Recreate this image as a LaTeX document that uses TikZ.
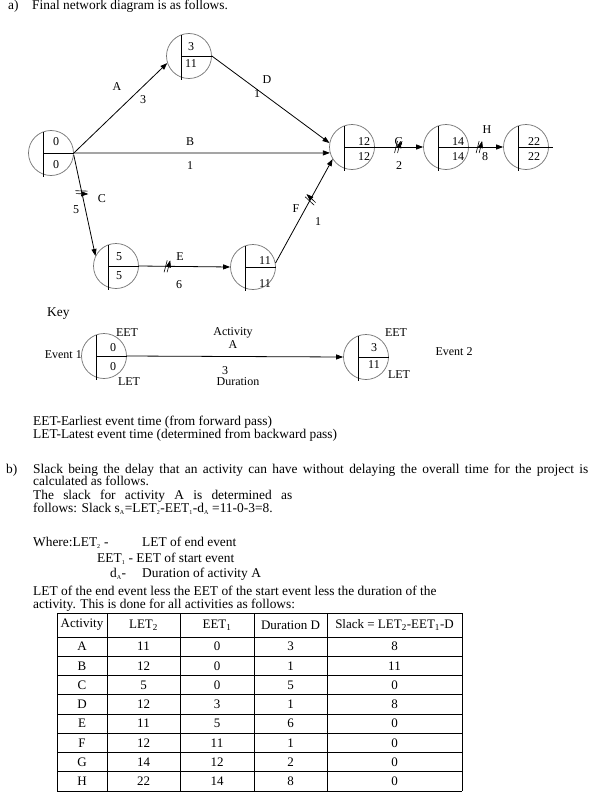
\documentclass[tikz,border=0pt]{standalone}
\usepackage{fontspec}
\setmainfont{Liberation Serif}
\usetikzlibrary{arrows.meta, decorations.markings}
\newcommand{\tsub}[1]{\textsubscript{\fontsize{6}{6}\selectfont #1}}

\begin{document}
\begin{tikzpicture}[
	x=1pt, y=-1pt,
	>={Triangle[length=7pt, width=5pt]},
	% Styles for events, activities and text
	event/.style={circle, draw=black!55, line width=0.7pt, minimum size=45pt, inner sep=0pt},
	divider/.style={line width=0.7pt},
	activity/.style={->, line width=0.8pt},
	critical/.style={postaction={decorate, decoration={markings, mark=at position #1 with {\draw[line width=0.6pt] (-3pt,-6pt) -- (0pt,6pt) (0pt,-6pt) -- (3pt,6pt);}}}},
	num/.style={font=\fontsize{12}{12}\selectfont, inner sep=0pt},
	lbl/.style={font=\fontsize{12}{12}\selectfont, inner sep=0pt},
	bodytext/.style={font=\fontsize{13.4}{13.4}\selectfont, inner sep=0pt, anchor=west, text height=8.5pt, text depth=2.3pt},
	cell/.style={font=\fontsize{13}{13}\selectfont, inner sep=0pt},
	tablerule/.style={line width=1pt}
	]
	\path[use as bounding box, fill=white] (0,0) rectangle (597,808);
	
	% ==========================================
	% 1. TITLE OF PART (a)
	% ==========================================
	\node[bodytext] (parta) at (8,6) {a)};
	\node[bodytext] (title) at (32,6) {Final network diagram is as follows.};
	
	% ==========================================
	% 2. EVENTS (name/x/y/EET/LET/text offsets)
	% ==========================================
	\foreach \nm/\cx/\cy/\eet/\late/\tx/\ty/\by in {
		n1/51/153/0/0/5/-11/12,
		n2/189/56/3/11/2/-9/8,
		n3/352/147/12/12/12/-5/10,
		n4/446/147/14/14/12/-5/10,
		n5/526/147/22/22/8/-5/10,
		n6/116/266/5/5/3/-9/10,
		n7/253/267/11/11/12/-6/17,
		k1/104/356/0/0/9/-8/11,
		k2/366/357/3/11/8/-9/8}
	{
		\node[event] (\nm) at (\cx,\cy) {};
		\draw[divider] ([shift={(-8pt,-2pt)}]\nm.north) -- ([shift={(-8pt,-1pt)}]\nm.south)
		([xshift=-8pt]\nm.center) -- (\nm.east);
		\node[num] (\nm-eet) at (\cx+\tx,\cy+\ty) {\eet};
		\node[num] (\nm-let) at (\cx+\tx,\cy+\by) {\late};
	}
	\draw[divider] (n5.east) -- ++(4,0);
	
	% ==========================================
	% 3. ACTIVITIES (// marks the critical path)
	% ==========================================
	\draw[activity] (n1.east) -- (n2.198);
	\draw[activity] (n1.east) -- (n3.195);
	\draw[activity, critical=0.37] (n1.-5) -- (n6.154);
	\draw[activity] (n2.east) -- (n3.170);
	\draw[activity, critical=0.31] (n6.east) -- (n7.west);
	\draw[activity, critical=0.61] (n7.10) -- (n3.212);
	\draw[activity, critical=0.47] (n3.east) -- (n4.west);
	\draw[activity, critical=0.3] (n4.east) -- (n5.west);
	
	% Activity letters and durations
	\node[lbl] (lA) at (117,87) {A};   \node[lbl] (dA) at (143,100) {3};
	\node[lbl] (lD) at (267,80) {D};   \node[lbl] (dD) at (257,94) {1};
	\node[lbl] (lB) at (190,142) {B};  \node[lbl] (dB) at (190,166) {1};
	\node[lbl] (lC) at (102,199) {C};  \node[lbl] (dC) at (76,210) {5};
	\node[lbl] (lE) at (180,257) {E};  \node[lbl] (dE) at (179,285) {6};
	\node[lbl] (lF) at (296,209) {F};  \node[lbl] (dF) at (318,222) {1};
	\node[lbl] (lG) at (399,142) {G};  \node[lbl] (dG) at (399,166) {2};
	\node[lbl] (lH) at (487,130) {H};  \node[lbl] (dH) at (485,157) {8};
	
	% ==========================================
	% 4. KEY
	% ==========================================
	\node[bodytext] (key) at (47,313) {Key};
	\draw[activity] (k1.east) -- (k2.west);
	\node[lbl] (k1top) at (127,333) {EET};
	\node[lbl] (k1bot) at (129,382) {LET};
	\node[lbl, anchor=east] (ev1) at (82,355) {Event 1};
	\node[lbl] (kact) at (233,333) {Activity};
	\node[lbl] (kA) at (233,345) {A};
	\node[lbl] (k3) at (225,371) {3};
	\node[lbl] (kdur) at (238,382) {Duration};
	\node[lbl] (k2top) at (396,333) {EET};
	\node[lbl] (k2bot) at (399,375) {LET};
	\node[lbl] (ev2) at (454,352) {Event 2};
	
	\node[bodytext] (eetdef) at (33,422) {EET-Earliest event time (from forward pass)};
	\node[bodytext] (letdef) at (33,435) {LET-Latest event time (determined from backward pass)};
	
	% ==========================================
	% 5. PART (b) TEXT
	% ==========================================
	\node[bodytext] (partb) at (6,470) {b)};
	\node[bodytext] (slack1) at (33,470) {\makebox[555pt][s]{Slack being the delay that an activity can have without delaying the overall time for the project is}};
	\node[bodytext] (slack2) at (33,482.5) {calculated as follows.};
	\node[bodytext] (slack3) at (33,496.5) {\makebox[259pt][s]{The slack for activity A is determined as}};
	\node[bodytext] (slack4) at (33,509.5) {follows: Slack s\tsub{A}=LET\tsub{2}-EET\tsub{1}-d\tsub{A} =11-0-3=8.};
	\node[bodytext] (where1) at (33,543) {Where:LET\tsub{2} -};
	\node[bodytext] (where1r) at (142,543) {LET of end event};
	\node[bodytext] (where2) at (97,559) {EET\tsub{1} - EET of start event};
	\node[bodytext] (where3) at (110,574) {d\tsub{A}-};
	\node[bodytext] (where3r) at (142,574) {Duration of activity A};
	\node[bodytext] (slack5) at (33,592) {LET of the end event less the EET of the start event less the duration of the};
	\node[bodytext] (slack6) at (33,605) {activity. This is done for all activities as follows:};
	
	% ==========================================
	% 6. SLACK TABLE
	% ==========================================
	\foreach \x in {57,107,180,254,327,462}
	\draw[tablerule] (\x,613) -- (\x,791);
	\foreach \y in {613,637,656.25,675.5,694.75,714,733.25,752.5,771.75,791}
	\draw[tablerule] (57,\y) -- (462,\y);
	
	\node[cell] (hact) at (82,625) {Activity};
	\node[cell] (hlet) at (143.5,625) {LET\textsubscript{2}};
	\node[cell] (heet) at (217,625) {EET\textsubscript{1}};
	\node[cell] (hdur) at (290.5,625) {Duration D};
	\node[cell] (hslk) at (394.5,625) {Slack = LET\textsubscript{2}-EET\textsubscript{1}-D};
	
	\foreach \act/\letv/\eetv/\durv/\slk [count=\i] in {A/11/0/3/8, B/12/0/1/11, C/5/0/5/0, D/12/3/1/8, E/11/5/6/0, F/12/11/1/0, G/14/12/2/0, H/22/14/8/0}
	{
		\pgfmathsetmacro\ry{637+(\i-0.5)*19.25}
		\node[cell] (row\i-act) at (82,\ry) {\act};
		\node[cell] (row\i-let) at (143.5,\ry) {\letv};
		\node[cell] (row\i-eet) at (217,\ry) {\eetv};
		\node[cell] (row\i-dur) at (290.5,\ry) {\durv};
		\node[cell] (row\i-slk) at (394.5,\ry) {\slk};
	}
\end{tikzpicture}
\end{document}
